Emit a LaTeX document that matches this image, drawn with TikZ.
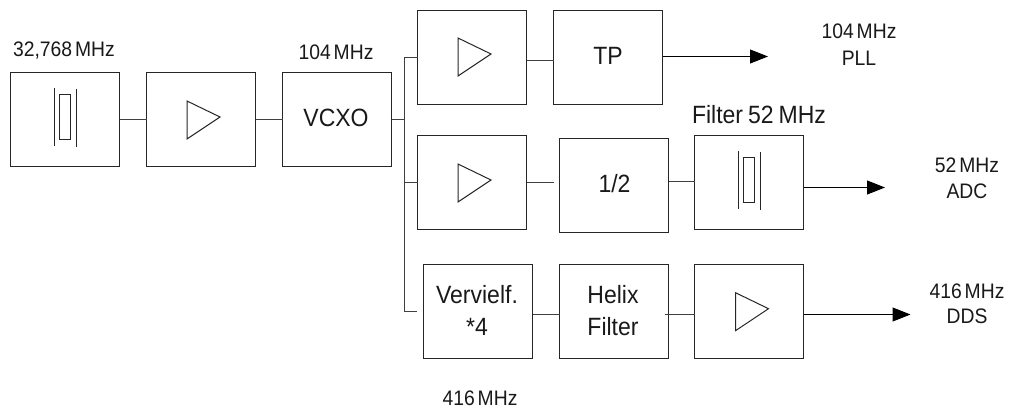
\documentclass[tikz,border=0pt]{standalone}
\usepackage{fontspec}
\setmainfont[FakeStretch=0.92]{Liberation Sans}
\usetikzlibrary{arrows.meta}
\newcommand\thsp{\hspace{0.14em}}
\newcommand\bigsp{\hspace{0.2em}}
\tikzset{
  x=1pt,y=-1pt,
  blk/.style={draw=black!85,line width=1pt,minimum width=109pt,minimum height=94pt,inner sep=0pt,outer sep=0pt},
  wire/.style={draw=black!75,line width=1pt},
  outarrow/.style={draw=black,line width=1pt,-{Triangle[length=18pt,width=14pt]}},
  small/.style={anchor=base,inner sep=0pt,font=\fontsize{21}{21}\selectfont,text=black!90},
  big/.style={anchor=base,inner sep=0pt,font=\fontsize{25}{25}\selectfont,text=black!90},
  sym/.style={draw=black!85,line width=1pt},
  ampsym/.pic={\draw[sym] (-16.5,-19) -- (16.5,-3) -- (-16.5,19) -- cycle;},
  xtal/.pic={
    \draw[sym] (-11,-29) -- (-11,29);
    \draw[sym] (11,-28) -- (11,30);
    \draw[sym] (-5.5,-22.5) rectangle (5.5,22.5);}
}
\begin{document}
\begin{tikzpicture}
\useasboundingbox (0,0) rectangle (1010,409);
% boxes
\node[blk] (xt) at (65,119.5) {};
\node[blk] (a0) at (201,119.5) {};
\node[blk] (vc) at (337,119.5) {};
\node[blk] (a1) at (472,57.5) {};
\node[blk] (tp) at (608,57.5) {};
\node[blk] (a2) at (472,182.5) {};
\node[blk] (dv) at (614,185.5) {};
\node[blk] (fl) at (749,182.5) {};
\node[blk] (vf) at (478,311.5) {};
\node[blk] (hx) at (614,311.5) {};
\node[blk] (a3) at (749,311.5) {};
% symbols
\pic at (65,117) {xtal};
\pic at (203.5,120) {ampsym};
\pic at (474.5,57) {ampsym};
\pic at (474.5,183) {ampsym};
\pic at (749,180) {xtal};
\pic at (752,311.7) {ampsym};
% free ends and junctions
\coordinate (busT) at (404.5,57.5);
\coordinate (busM) at (404.5,119.5);
\coordinate (busR2) at (404.5,182.5);
\coordinate (busB) at (404.5,311.5);
\coordinate (vfIn) at (417,311.5);
\coordinate (a2End) at (554,182.5);
\coordinate (hxOut) at (665,314.5);
\coordinate (pllEnd) at (768,56.5);
\coordinate (adcEnd) at (885,187.5);
\coordinate (ddsEnd) at (910.5,314.5);
% connectors
\draw[wire] (xt) -- (a0);
\draw[wire] (a0) -- (vc);
\draw[wire] (vc) -- (busM);
\draw[wire] (a1.west) -- (busT) -- (busB) -- (vfIn);
\draw[wire] (busR2) -- (a2.west);
\draw[wire] (a1.east |- 0,60.5) -- (tp.west |- 0,60.5);
\draw[wire] (a2.east |- a2End) -- (a2End);
\draw[wire] (dv.east |- 0,181.5) -- (fl.west |- 0,181.5);
\draw[wire] (vf.east |- 0,314.5) -- (hx.west |- 0,314.5);
\draw[wire] (hxOut) -- (a3.west |- hxOut);
\draw[outarrow] (tp.east |- pllEnd) -- (pllEnd);
\draw[outarrow] (fl.east |- adcEnd) -- (adcEnd);
\draw[outarrow] (a3.east |- ddsEnd) -- (ddsEnd);
% labels
\node[small] (l1) at (64,57) {32,768\thsp MHz};
\node[small] (l2) at (336,60) {104\thsp MHz};
\node[big] (t1) at (336,127) {VCXO};
\node[big] (t2) at (608,65) {TP};
\node[big] (t3) at (614.5,193) {1/2};
\node[big] (t4) at (477,303) {Vervielf.};
\node[big] (t5) at (477,335) {*4};
\node[big] (t6) at (613,303) {Helix};
\node[big] (t7) at (613,335) {Filter};
\node[big] (t8) at (759,124) {Filter\bigsp 52\bigsp MHz};
\node[small] (l3) at (859,39) {104\thsp MHz};
\node[small] (l4) at (859,66) {PLL};
\node[small] (l5) at (967,172) {52\thsp MHz};
\node[small] (l6) at (967,199) {ADC};
\node[small] (l7) at (967,298) {416\thsp MHz};
\node[small] (l8) at (967,323) {DDS};
\node[small] (l9) at (480,405) {416\thsp MHz};
\end{tikzpicture}
\end{document}
